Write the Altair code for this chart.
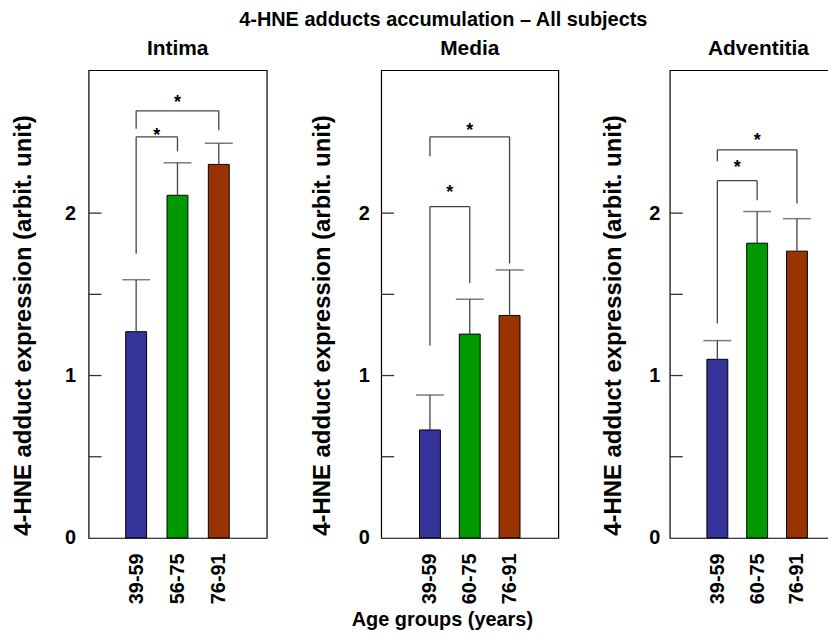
import altair as alt
import pandas as pd

FONT = "Liberation Sans"

# ---- data ----
panel_titles = ["Intima", "Media", "Adventitia"]
groups_intima = ["39-59", "56-75", "76-91"]
groups_media = ["39-59", "60-75", "76-91"]
groups_adv = ["39-59", "60-75", "76-91"]

means_intima = [1.27, 2.11, 2.30]
err_intima = [0.32, 0.20, 0.13]
means_media = [0.665, 1.255, 1.37]
err_media = [0.215, 0.215, 0.28]
means_adv = [1.10, 1.815, 1.766]
err_adv = [0.115, 0.195, 0.20]

# significance brackets: group index from -> to
br_from = [1, 1]
br_to = [2, 3]
br_y_intima = [2.47, 2.63]
br_left_intima = [1.75, 2.52]
br_right_intima = [2.38, 2.51]
star_y_intima = [2.50, 2.70]

br_y_media = [2.04, 2.47]
br_left_media = [1.185, 2.35]
br_right_media = [1.57, 1.69]
star_y_media = [2.15, 2.53]

br_y_adv = [2.20, 2.39]
br_left_adv = [1.32, 2.32]
br_right_adv = [2.08, 2.06]
star_y_adv = [2.30, 2.47]

minor_ticks = [0.5, 1.0, 1.5, 2.0]
y_labels = [0, 1, 2]

bar_colors = ["#333399", "#009900", "#993300"]

Y_DOMAIN = [0, 2.88]
H = 470


def panel(title, groups, means, errs, by, bl, brr, sy, xdom, width,
          label_pad, title_pad, xtitle=None):
    pos = [1, 2, 3]
    bars = pd.DataFrame({"pos": pos, "group": groups, "mean": means,
                         "hi": [m + e for m, e in zip(means, errs)],
                         "color": bar_colors})
    br = pd.DataFrame({"x1": br_from, "x2": br_to, "y": by, "yl": bl,
                       "yr": brr, "sy": sy,
                       "mid": [(a + b) / 2 for a, b in zip(br_from, br_to)]})
    tk = pd.DataFrame({"v": minor_ticks})

    xscale = alt.Scale(domain=xdom, nice=False, zero=False)
    yscale = alt.Scale(domain=Y_DOMAIN, nice=False)
    label_expr = "[" + ",".join("'%s'" % g for g in groups) + "][datum.value - 1]"

    xaxis = alt.Axis(values=pos, labelExpr=label_expr, ticks=False, domain=False,
                     grid=False, labelAngle=270, labelFont=FONT, labelFontSize=20,
                     labelFontWeight="bold", labelColor="black", labelPadding=15,
                     title=xtitle if xtitle else "",
                     titleFont=FONT, titleFontSize=20, titleFontWeight="bold",
                     titleColor="black", titlePadding=6, titleX=61)
    yaxis = alt.Axis(values=y_labels, ticks=False, domain=False, grid=False,
                     labelFont=FONT, labelFontSize=20, labelFontWeight="bold",
                     labelColor="black", labelPadding=label_pad,
                     title="4-HNE adduct expression (arbit. unit)",
                     titleFont=FONT, titleFontSize=24, titleFontWeight="bold",
                     titleColor="black", titlePadding=title_pad, titleY=256)

    X = lambda f: alt.X(f, scale=xscale, axis=xaxis)
    Y = lambda f: alt.Y(f, scale=yscale, axis=yaxis)

    base_bars = alt.Chart(bars).mark_bar(size=21, stroke="black", strokeWidth=1).encode(
        x=X("pos:Q"), y=Y("mean:Q"),
        color=alt.Color("color:N", scale=None, legend=None),
    )
    err_line = alt.Chart(bars).mark_rule(color="#444444", strokeWidth=1.3).encode(
        x=X("pos:Q"), y=Y("mean:Q"), y2="hi:Q",
    )
    err_cap = alt.Chart(bars).mark_tick(orient="horizontal", size=28, thickness=1.5,
                                        color="#444444").encode(
        x=X("pos:Q"), y=Y("hi:Q"),
    )
    ticks = alt.Chart(tk).mark_rule(color="#333333", strokeWidth=1.3).encode(
        y=Y("v:Q"), x=alt.value(0), x2=alt.value(13),
    )
    b_h = alt.Chart(br).mark_rule(color="#444444", strokeWidth=1.3).encode(
        x=X("x1:Q"), x2="x2:Q", y=Y("y:Q"),
    )
    b_l = alt.Chart(br).mark_rule(color="#444444", strokeWidth=1.3).encode(
        x=X("x1:Q"), y=Y("yl:Q"), y2="y:Q",
    )
    b_r = alt.Chart(br).mark_rule(color="#444444", strokeWidth=1.3).encode(
        x=X("x2:Q"), y=Y("yr:Q"), y2="y:Q",
    )
    stars = alt.Chart(br).mark_text(text="*", font=FONT, fontSize=18, fontWeight="bold",
                                    baseline="middle", dy=4, color="black").encode(
        x=X("mid:Q"), y=Y("sy:Q"),
    )
    return alt.layer(base_bars, err_line, err_cap, ticks, b_h, b_l, b_r, stars).properties(
        width=width, height=H,
        title=alt.TitleParams(title, font=FONT, fontSize=21, fontWeight="bold",
                              color="black", offset=11),
    )


p1 = panel(panel_titles[0], groups_intima, means_intima, err_intima,
           br_y_intima, br_left_intima, br_right_intima, star_y_intima,
           [-0.03, 4.04], 179, 13, 29)
p2 = panel(panel_titles[1], groups_media, means_media, err_media,
           br_y_media, br_left_media, br_right_media, star_y_media,
           [-0.1, 4.1], 178, 12, 24, xtitle="Age groups (years)")
p3 = panel(panel_titles[2], groups_adv, means_adv, err_adv,
           br_y_adv, br_left_adv, br_right_adv, star_y_adv,
           [-0.07, 4.13], 178, 10, 23)

chart = alt.hconcat(p1, p2, p3, spacing=42).properties(
    title=alt.TitleParams("4-HNE adducts accumulation \u2013 All subjects", font=FONT,
                          fontSize=20, fontWeight="bold", color="black",
                          anchor="middle", offset=8, dx=14),
    padding={"left": 3, "top": 0, "right": -20, "bottom": 0},
    background="white",
).configure_view(stroke="black", strokeWidth=1.2)

chart.save("out.html", embed_options={"renderer": "svg", "actions": False})
